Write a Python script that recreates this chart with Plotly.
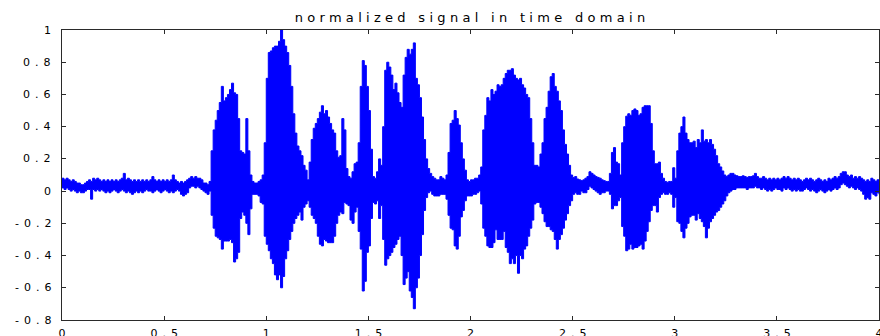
import plotly.graph_objects as go

# sample grid (seconds), one envelope reading every 0.01 s
time_s = [round(i * 0.01, 2) for i in range(401)]

# upper envelope of the normalized signal
upper = [
    0.08, 0.07, 0.08, 0.07, 0.06, 0.07, 0.06, 0.05, 0.05, 0.04,
    0.04, 0.05, 0.06, 0.07, 0.06, 0.08, 0.07, 0.08, 0.07, 0.06,
    0.07, 0.06, 0.07, 0.06, 0.07, 0.06, 0.07, 0.06, 0.07, 0.08,
    0.11, 0.07, 0.08, 0.07, 0.06, 0.07, 0.06, 0.07, 0.06, 0.07,
    0.06, 0.07, 0.06, 0.07, 0.09, 0.07, 0.06, 0.07, 0.06, 0.07,
    0.06, 0.07, 0.06, 0.07, 0.10, 0.07, 0.06, 0.05, 0.06, 0.05,
    0.06, 0.07, 0.08, 0.09, 0.08, 0.09, 0.08, 0.08, 0.07, 0.05,
    0.05, 0.04, 0.06, 0.25, 0.38, 0.44, 0.50, 0.55, 0.65, 0.56,
    0.58, 0.60, 0.63, 0.67, 0.61, 0.60, 0.45, 0.25, 0.24, 0.23,
    0.45, 0.25, 0.10, 0.06, 0.05, 0.05, 0.06, 0.07, 0.10, 0.30,
    0.70, 0.86, 0.87, 0.89, 0.90, 0.90, 0.93, 1.00, 0.94, 0.90,
    0.86, 0.78, 0.65, 0.48, 0.36, 0.28, 0.25, 0.22, 0.16, 0.13,
    0.07, 0.18, 0.32, 0.39, 0.42, 0.45, 0.49, 0.53, 0.48, 0.50,
    0.46, 0.42, 0.38, 0.36, 0.25, 0.21, 0.22, 0.45, 0.38, 0.14,
    0.09, 0.08, 0.12, 0.17, 0.18, 0.30, 0.65, 0.81, 0.78, 0.65,
    0.50, 0.26, 0.09, 0.08, 0.12, 0.20, 0.16, 0.40, 0.75, 0.80,
    0.77, 0.72, 0.63, 0.67, 0.61, 0.55, 0.52, 0.72, 0.83, 0.88,
    0.85, 0.88, 0.92, 0.70, 0.66, 0.58, 0.46, 0.32, 0.20, 0.14,
    0.11, 0.09, 0.08, 0.07, 0.07, 0.09, 0.08, 0.07, 0.10, 0.24,
    0.42, 0.44, 0.50, 0.45, 0.41, 0.30, 0.20, 0.13, 0.07, 0.06,
    0.07, 0.07, 0.08, 0.08, 0.10, 0.15, 0.38, 0.47, 0.58, 0.56,
    0.63, 0.60, 0.62, 0.66, 0.65, 0.66, 0.70, 0.73, 0.75, 0.75,
    0.76, 0.72, 0.70, 0.69, 0.70, 0.66, 0.64, 0.60, 0.58, 0.45,
    0.30, 0.16, 0.16, 0.15, 0.23, 0.30, 0.45, 0.52, 0.62, 0.71,
    0.73, 0.65, 0.62, 0.56, 0.50, 0.38, 0.29, 0.23, 0.16, 0.10,
    0.085, 0.09, 0.075, 0.07, 0.065, 0.07, 0.08, 0.09, 0.12, 0.11,
    0.10, 0.09, 0.085, 0.08, 0.07, 0.065, 0.06, 0.06, 0.11, 0.24,
    0.27, 0.18, 0.17, 0.10, 0.30, 0.40, 0.465, 0.48, 0.47, 0.50,
    0.51, 0.50, 0.47, 0.48, 0.52, 0.53, 0.53, 0.53, 0.42, 0.25,
    0.17, 0.17, 0.18, 0.11, 0.08, 0.06, 0.055, 0.06, 0.06, 0.145,
    0.08, 0.25, 0.36, 0.40, 0.46, 0.36, 0.32, 0.30, 0.30, 0.31,
    0.27, 0.32, 0.30, 0.38, 0.31, 0.32, 0.30, 0.32, 0.29, 0.26,
    0.22, 0.17, 0.15, 0.125, 0.10, 0.09, 0.10, 0.11, 0.11, 0.10,
    0.095, 0.09, 0.09, 0.095, 0.09, 0.085, 0.09, 0.09, 0.095, 0.11,
    0.09, 0.08, 0.08, 0.09, 0.08, 0.07, 0.08, 0.07, 0.08, 0.07,
    0.08, 0.07, 0.08, 0.09, 0.08, 0.09, 0.08, 0.07, 0.08, 0.07,
    0.08, 0.07, 0.06, 0.07, 0.08, 0.07, 0.08, 0.07, 0.06, 0.07,
    0.08, 0.07, 0.06, 0.07, 0.06, 0.08, 0.07, 0.08, 0.09, 0.08,
    0.09, 0.11, 0.12, 0.12, 0.10, 0.09, 0.10, 0.08, 0.09, 0.08,
    0.09, 0.08, 0.07, 0.06, 0.07, 0.06, 0.08, 0.07, 0.06, 0.07,
    0.06,
]

# lower envelope of the normalized signal
lower = [
    0.02, 0.01, 0.02, 0.01, 0.00, 0.01, 0.00, -0.01, 0.00, -0.01,
    -0.01, 0.00, 0.01, 0.01, -0.05, 0.01, 0.00, 0.01, 0.00, 0.01,
    0.00, -0.01, 0.00, -0.01, 0.00, 0.01, 0.00, -0.01, 0.00, 0.01,
    0.00, -0.01, 0.00, -0.01, -0.02, -0.01, 0.00, -0.01, 0.00, -0.01,
    0.00, 0.01, 0.00, 0.00, -0.01, 0.00, 0.01, 0.00, -0.01, 0.00,
    0.01, 0.00, -0.01, 0.00, -0.01, 0.00, 0.01, 0.00, -0.02, -0.03,
    -0.02, -0.01, 0.02, 0.03, 0.03, 0.02, 0.03, 0.02, 0.01, 0.00,
    -0.01, -0.02, 0.00, -0.15, -0.23, -0.28, -0.29, -0.30, -0.36, -0.31,
    -0.31, -0.31, -0.30, -0.32, -0.44, -0.42, -0.38, -0.17, -0.13, -0.15,
    -0.20, -0.27, -0.11, -0.02, -0.02, -0.02, -0.03, -0.07, -0.08, -0.28,
    -0.33, -0.37, -0.42, -0.45, -0.52, -0.55, -0.52, -0.60, -0.53, -0.42,
    -0.37, -0.30, -0.25, -0.20, -0.17, -0.15, -0.13, -0.18, -0.10, -0.08,
    -0.06, -0.10, -0.15, -0.17, -0.20, -0.28, -0.33, -0.34, -0.30, -0.31,
    -0.32, -0.32, -0.32, -0.28, -0.20, -0.15, -0.13, -0.14, -0.07, -0.08,
    -0.09, -0.18, -0.20, -0.13, -0.10, -0.25, -0.36, -0.62, -0.56, -0.38,
    -0.34, -0.17, -0.07, -0.08, -0.06, -0.17, -0.09, -0.30, -0.46, -0.42,
    -0.40, -0.38, -0.35, -0.33, -0.30, -0.28, -0.40, -0.58, -0.54, -0.50,
    -0.62, -0.66, -0.73, -0.60, -0.54, -0.40, -0.27, -0.12, -0.04, -0.01,
    0.00, -0.02, -0.03, -0.03, -0.03, -0.02, -0.02, -0.02, -0.05, -0.15,
    -0.23, -0.24, -0.34, -0.36, -0.28, -0.16, -0.12, -0.06, -0.03, -0.03,
    -0.03, -0.02, -0.02, -0.01, 0.00, -0.08, -0.23, -0.28, -0.34, -0.35,
    -0.35, -0.32, -0.24, -0.30, -0.30, -0.30, -0.25, -0.35, -0.38, -0.45,
    -0.42, -0.45, -0.40, -0.51, -0.40, -0.42, -0.36, -0.34, -0.28, -0.23,
    -0.18, -0.08, -0.07, -0.07, -0.10, -0.14, -0.19, -0.22, -0.22, -0.24,
    -0.25, -0.30, -0.36, -0.30, -0.27, -0.23, -0.18, -0.14, -0.09, -0.06,
    -0.02, -0.01, -0.02, -0.02, 0.00, -0.01, -0.01, 0.01, 0.03, 0.02,
    0.01, 0.00, -0.01, -0.02, -0.01, -0.01, 0.00, 0.00, -0.02, -0.11,
    -0.09, -0.09, -0.06, -0.04, -0.22, -0.28, -0.37, -0.36, -0.33, -0.36,
    -0.35, -0.35, -0.34, -0.33, -0.36, -0.31, -0.25, -0.19, -0.12, -0.09,
    -0.09, -0.13, -0.04, -0.02, -0.01, -0.02, -0.02, -0.01, -0.02, -0.10,
    -0.04, -0.19, -0.20, -0.25, -0.29, -0.23, -0.20, -0.16, -0.15, -0.15,
    -0.18, -0.14, -0.17, -0.19, -0.22, -0.29, -0.23, -0.19, -0.17, -0.15,
    -0.13, -0.12, -0.10, -0.08, -0.06, -0.03, -0.01, 0.00, 0.01, 0.01,
    0.02, 0.02, 0.02, 0.02, 0.02, 0.01, 0.02, 0.02, 0.02, 0.03,
    0.02, 0.02, 0.01, 0.02, 0.01, 0.00, 0.01, 0.00, 0.01, 0.02,
    0.01, 0.01, 0.00, 0.02, 0.01, 0.02, 0.01, 0.00, 0.01, 0.00,
    0.01, 0.00, 0.00, 0.01, 0.02, 0.01, 0.00, 0.01, 0.00, -0.01,
    0.00, 0.01, 0.00, -0.01, 0.00, 0.01, 0.00, 0.01, 0.02, 0.01,
    0.02, 0.04, 0.05, 0.04, 0.03, 0.02, 0.03, 0.02, 0.01, 0.02,
    0.01, 0.00, -0.02, -0.05, -0.04, -0.05, -0.01, -0.02, -0.03, -0.01,
    -0.02,
]

assert len(upper) == len(time_s) == len(lower), (len(upper), len(lower))

x_tick_vals = [0, 0.5, 1, 1.5, 2, 2.5, 3, 3.5, 4]
x_tick_text = ["0", "0.5", "1", "1.5", "2", "2.5", "3", "3.5", "4"]
y_tick_vals = [-0.8, -0.6, -0.4, -0.2, 0, 0.2, 0.4, 0.6, 0.8, 1]
y_tick_text = ["-0.8", "-0.6", "-0.4", "-0.2", "0", "0.2", "0.4", "0.6", "0.8", "1"]
title_text = "normalized signal in time domain"

BLUE = "#0000ff"
FONT = "DejaVu Sans"
TICK_FONT = dict(family=FONT, size=11, color="#000000")


def spaced(s, px):
    # widen the text like the stretched original; no extra space after the last glyph
    if len(s) < 2:
        return s
    return f'<span style="letter-spacing:{px}px">{s[:-1]}</span>{s[-1]}'


fig = go.Figure()
fig.add_trace(go.Scatter(
    x=time_s, y=upper, mode="lines", line=dict(color=BLUE, width=1, shape="hv"),
    hoverinfo="skip", showlegend=False))
fig.add_trace(go.Scatter(
    x=time_s, y=lower, mode="lines", line=dict(color=BLUE, width=1, shape="hv"),
    fill="tonexty", fillcolor=BLUE, hoverinfo="skip", showlegend=False))

axis_common = dict(
    showgrid=False, zeroline=False, showline=True, linecolor="#2a2a2a", linewidth=1,
    mirror="ticks", ticks="inside", ticklen=4, tickcolor="#2a2a2a", tickwidth=1,
    tickfont=TICK_FONT, automargin=False, ticklabeloverflow="allow",
)

# y tick labels, right-aligned 10 px left of the axis as in the original
y_labels = [
    dict(xref="paper", x=0, xanchor="right", xshift=-9, yref="y", y=v,
         yanchor="middle", text=spaced(t, 5), showarrow=False, font=TICK_FONT)
    for v, t in zip(y_tick_vals, y_tick_text)
]

fig.update_layout(
    width=880, height=336,
    margin=dict(l=62, r=1, t=30, b=16, autoexpand=False),
    paper_bgcolor="white", plot_bgcolor="white",
    title=dict(text=spaced(title_text, 4.3), x=0.534, xanchor="center",
               y=1 - 17 / 336, yanchor="middle", yref="container",
               font=dict(family=FONT, size=13, color="#000000")),
    xaxis=dict(range=[0, 4], tickmode="array", tickvals=x_tick_vals,
               ticktext=[spaced(t, 5) for t in x_tick_text],
               ticklabelstandoff=3, **axis_common),
    yaxis=dict(range=[-0.8, 1], tickmode="array", tickvals=y_tick_vals,
               showticklabels=False, **axis_common),
    annotations=y_labels,
)

fig.write_html("out.html", config={"displayModeBar": False},
               post_script="document.body.style.margin='0';")
